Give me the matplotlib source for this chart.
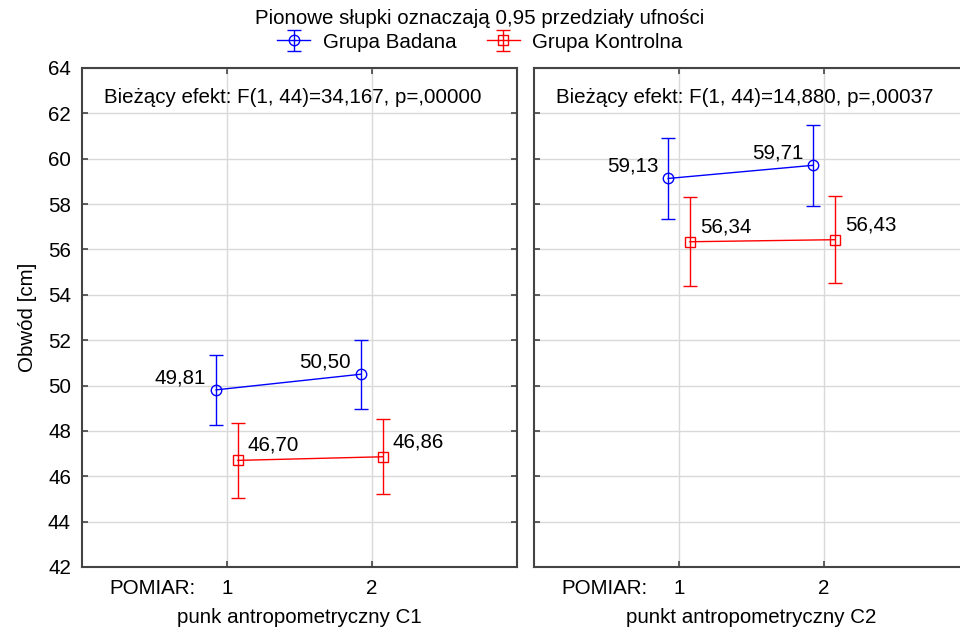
import numpy as np
import matplotlib
matplotlib.use("Agg")
import matplotlib.pyplot as plt

plt.rcParams['font.family'] = ['Liberation Sans', 'DejaVu Sans']

# measurements (POMIAR) and group means with 0.95 CI bounds
pomiar = [1, 2]
panel_titles = ["punk antropometryczny C1", "punkt antropometryczny C2"]
effects = ["Bieżący efekt: F(1, 44)=34,167, p=,00000",
           "Bieżący efekt: F(1, 44)=14,880, p=,00037"]

badana_c1 = [49.81, 50.50]
badana_c1_lo = [48.28, 48.98]
badana_c1_hi = [51.34, 52.03]
kontrolna_c1 = [46.70, 46.86]
kontrolna_c1_lo = [45.04, 45.23]
kontrolna_c1_hi = [48.35, 48.53]

badana_c2 = [59.13, 59.71]
badana_c2_lo = [57.36, 57.93]
badana_c2_hi = [60.91, 61.49]
kontrolna_c2 = [56.34, 56.43]
kontrolna_c2_lo = [54.40, 54.50]
kontrolna_c2_hi = [58.30, 58.37]

FS = 14.8
BLUE = '#0000ff'
RED = '#ff0000'

fig = plt.figure(figsize=(9.6, 6.29), dpi=100)
W, H = 960, 629
ax1 = fig.add_axes([82 / W, 1 - 567 / H, 435 / W, 499 / H])
ax2 = fig.add_axes([534 / W, 1 - 567 / H, 435 / W, 499 / H])

panels = [
    (ax1, badana_c1, badana_c1_lo, badana_c1_hi, kontrolna_c1, kontrolna_c1_lo, kontrolna_c1_hi),
    (ax2, badana_c2, badana_c2_lo, badana_c2_hi, kontrolna_c2, kontrolna_c2_lo, kontrolna_c2_hi),
]

handles = []
for i, (ax, b, b_lo, b_hi, k, k_lo, k_hi) in enumerate(panels):
    x = np.array(pomiar, dtype=float)
    b, k = np.array(b), np.array(k)
    b_err = [b - np.array(b_lo), np.array(b_hi) - b]
    k_err = [k - np.array(k_lo), np.array(k_hi) - k]

    hb = ax.errorbar(x - 0.075, b, yerr=b_err, color=BLUE, lw=1.0, marker='o',
                     ms=7.5, mfc='none', mec=BLUE, mew=1.0, capsize=5, capthick=1.0,
                     zorder=3)
    hk = ax.errorbar(x + 0.075, k, yerr=k_err, color=RED, lw=1.0, marker='s',
                     ms=7.5, mfc='none', mec=RED, mew=1.0, capsize=5, capthick=1.0,
                     zorder=3)
    if i == 0:
        handles = [hb, hk]

    for xi, v in zip(x - 0.075, b):
        ax.annotate(f"{v:.2f}".replace('.', ','), (xi, v), textcoords='offset pixels',
                    xytext=(-10, 12), ha='right', va='center', fontsize=FS)
    for xi, v in zip(x + 0.075, k):
        ax.annotate(f"{v:.2f}".replace('.', ','), (xi, v), textcoords='offset pixels',
                    xytext=(10, 15), ha='left', va='center', fontsize=FS)

    ax.text(0.05, 0.94, effects[i], transform=ax.transAxes, ha='left', va='center',
            fontsize=FS)

    ax.set_xlim(0, 3)
    ax.set_ylim(42, 64)
    ax.set_yticks(np.arange(42, 65, 2))
    ax.set_xticks(pomiar)
    ax.set_xticklabels([str(p) for p in pomiar])
    ax.grid(True, color='#d9d9d9', lw=1.0, zorder=0)
    ax.set_axisbelow(True)
    ax.tick_params(direction='in', length=4, width=1.2, color='#444444',
                   top=True, right=True, labelsize=FS, pad=9)
    ax.tick_params(axis='y', pad=8)
    if i == 1:
        ax.tick_params(labelleft=False)
    for s in ax.spines.values():
        s.set_color('#444444')
        s.set_linewidth(1.5)

    ax.annotate("POMIAR:", (0.78, 0), xycoords=('data', 'axes fraction'),
                textcoords='offset pixels', xytext=(0, -21), ha='right', va='center',
                fontsize=FS)
    ax.set_xlabel(panel_titles[i], fontsize=FS, labelpad=7)

ax1.set_ylabel("Obwód [cm]", fontsize=FS, labelpad=8)

fig.text(0.5, 1 - 19 / H, "Pionowe słupki oznaczają 0,95 przedziały ufności",
         ha='center', va='center', fontsize=FS)
fig.legend(handles, ["Grupa Badana", "Grupa Kontrolna"], loc='center',
           bbox_to_anchor=(0.5, 1 - 42 / H), ncol=2, frameon=False, fontsize=FS,
           handlelength=1.6, handletextpad=0.6, columnspacing=1.5,
           borderpad=0, labelspacing=0)

fig.savefig("out.png", dpi=100)
